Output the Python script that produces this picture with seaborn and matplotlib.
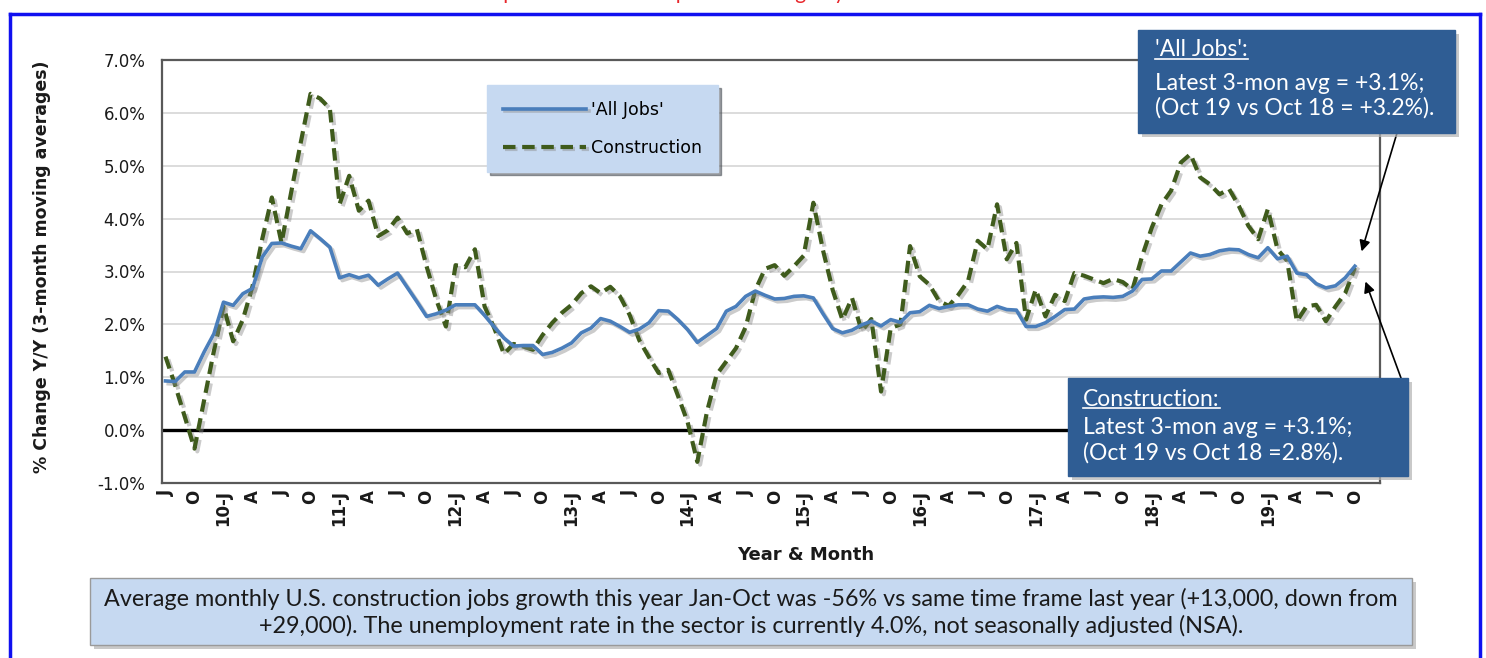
import matplotlib
matplotlib.use("Agg")
import matplotlib.pyplot as plt
import matplotlib.patheffects as pe
from matplotlib.patches import Rectangle
from matplotlib.lines import Line2D
import seaborn as sns
import pandas as pd

# monthly, Jul 2009 .. Oct 2019, % change y/y (3-month moving averages)
all_jobs = [
    0.93, 0.92, 1.10, 1.10, 1.48, 1.82, 2.42, 2.36, 2.58, 2.68, 3.27, 3.53,
    3.54, 3.48, 3.43, 3.77, 3.62, 3.46, 2.88, 2.94, 2.88, 2.93, 2.74, 2.86,
    2.97, 2.70, 2.43, 2.15, 2.20, 2.27, 2.37, 2.37, 2.37, 2.17, 1.95, 1.74,
    1.59, 1.60, 1.60, 1.43, 1.47, 1.55, 1.65, 1.84, 1.93, 2.11, 2.06, 1.96,
    1.85, 1.91, 2.03, 2.26, 2.25, 2.09, 1.90, 1.66, 1.79, 1.92, 2.25, 2.34,
    2.53, 2.63, 2.55, 2.48, 2.49, 2.53, 2.54, 2.50, 2.20, 1.92, 1.84, 1.89,
    1.99, 2.06, 1.97, 2.09, 2.04, 2.22, 2.24, 2.36, 2.30, 2.34, 2.37, 2.37,
    2.29, 2.25, 2.34, 2.28, 2.27, 1.96, 1.96, 2.03, 2.15, 2.28, 2.29, 2.48,
    2.51, 2.52, 2.51, 2.53, 2.63, 2.85, 2.86, 3.01, 3.01, 3.18, 3.35, 3.29,
    3.32, 3.39, 3.42, 3.41, 3.32, 3.26, 3.45, 3.24, 3.29, 2.97, 2.94, 2.77,
    2.69, 2.73, 2.88, 3.10,
]
construction = [
    1.39, 0.85, 0.25, -0.35, 0.57, 1.49, 2.34, 1.68, 2.09, 2.72, 3.61, 4.40,
    3.54, 4.50, 5.45, 6.36, 6.27, 6.08, 4.27, 4.81, 4.15, 4.34, 3.67, 3.78,
    4.02, 3.72, 3.80, 3.10, 2.47, 1.96, 3.12, 3.08, 3.42, 2.34, 1.93, 1.44,
    1.63, 1.58, 1.52, 1.80, 2.03, 2.22, 2.37, 2.59, 2.72, 2.59, 2.71, 2.53,
    2.18, 1.70, 1.38, 1.08, 1.14, 0.65, 0.15, -0.60, 0.35, 1.05, 1.30, 1.55,
    1.95, 2.65, 3.05, 3.12, 2.92, 3.10, 3.30, 4.30, 3.40, 2.65, 2.09, 2.50,
    1.87, 2.10, 0.73, 1.93, 2.00, 3.48, 2.91, 2.75, 2.44, 2.35, 2.56, 2.82,
    3.58, 3.42, 4.27, 3.23, 3.54, 2.09, 2.66, 2.15, 2.56, 2.44, 2.97, 2.92,
    2.85, 2.78, 2.86, 2.80, 2.66, 3.29, 3.83, 4.27, 4.53, 5.06, 5.22, 4.78,
    4.65, 4.46, 4.56, 4.24, 3.86, 3.61, 4.18, 3.42, 3.20, 2.06, 2.34, 2.37,
    2.06, 2.34, 2.59, 3.07,
]
# one label every 3 months, starting Jul 2009
tick_labels = [
    "J", "O", "10-J", "A", "J", "O", "11-J", "A", "J", "O", "12-J", "A",
    "J", "O", "13-J", "A", "J", "O", "14-J", "A", "J", "O", "15-J", "A",
    "J", "O", "16-J", "A", "J", "O", "17-J", "A", "J", "O", "18-J", "A",
    "J", "O", "19-J", "A", "J", "O",
]
y_ticks = [-1, 0, 1, 2, 3, 4, 5, 6, 7]

df = pd.DataFrame({"month": range(len(all_jobs)),
                   "all_jobs": all_jobs,
                   "construction": construction})

W, H = 1486, 658
fig = plt.figure(figsize=(W / 100, H / 100), dpi=100)
ax = fig.add_axes([162 / W, 1 - 483 / H, (1380 - 162) / W, 423 / H])

blue = "#4a7ebb"
green = "#3f5b1c"
shadow = [pe.SimpleLineShadow(offset=(2, -2), shadow_color="#8c8c8c", alpha=0.45), pe.Normal()]

sns.lineplot(data=df, x="month", y="all_jobs", ax=ax, color=blue, lw=2.6,
             label="'All Jobs'", zorder=4)
sns.lineplot(data=df, x="month", y="construction", ax=ax, color=green, lw=3.0,
             linestyle=(0, (3, 1.6)), label="Construction", zorder=3)
for ln in ax.get_lines():
    ln.set_path_effects(shadow)

ax.axhline(0, color="black", lw=2.4, zorder=2)
ax.set_ylim(-1, 7)
ax.set_xlim(-0.36, 125.6)
ax.set_yticks(y_ticks)
ax.set_yticklabels([f"{v:.1f}%" for v in y_ticks], fontsize=12, color="#1a1a1a")
ax.set_xticks(df["month"][::3])
ax.set_xticklabels(tick_labels, rotation=90, fontsize=12, fontweight="bold",
                   color="#1a1a1a")
ax.tick_params(axis="both", length=0)
ax.tick_params(axis="y", pad=12)
ax.tick_params(axis="x", pad=5)
ax.yaxis.grid(True, color="#d9d9d9", lw=1.3)
ax.xaxis.grid(False)
ax.set_axisbelow(True)
for s in ax.spines.values():
    s.set_color("#595959")
    s.set_linewidth(1.6)
ax.set_xlabel("")
ax.set_ylabel("")

leg = ax.legend(loc="upper left", bbox_to_anchor=((487 - 162) / 1218, (483 - 85) / 423),
                fontsize=12.5, frameon=True, fancybox=False, shadow=True,
                handlelength=4.8, handletextpad=0.3, labelspacing=1.15,
                borderpad=0.9, borderaxespad=0)
leg.get_frame().set_facecolor("#c6d9f1")
leg.get_frame().set_edgecolor("#c6d9f1")
leg.get_frame().set_alpha(1)

fig.text(42 / W, 1 - 267 / H, "% Change Y/Y (3-month moving averages)", rotation=90,
         ha="center", va="center", fontsize=12.5, fontweight="bold", color="#1a1a1a")
fig.text(806 / W, 1 - 555 / H, "Year & Month", ha="center", va="center",
         fontsize=13, fontweight="bold", color="#1a1a1a")

# red heading, cut off at the top edge as in the source image
fig.text(600 / W, 1 + 1 / H, "Construction Jobs Compared to 'All Jobs': percent change by month",
         ha="center", va="baseline", fontsize=15, color="#e8262b", family="Lato")

# blue frame
for xs, ys in [((10, 1480), (14, 14)), ((10, 10), (14, 700)), ((1480, 1480), (14, 700))]:
    fig.add_artist(Line2D([x / W for x in xs], [1 - y / H for y in ys], color="#1010f0", lw=2.5))


def box(x0, y0, x1, y1, face, edge=None):
    fig.add_artist(Rectangle(((x0 + 4) / W, 1 - (y1 + 4) / H), (x1 - x0) / W, (y1 - y0) / H,
                             transform=fig.transFigure, facecolor="#b3b3b3", edgecolor="none",
                             alpha=0.7, zorder=5))
    fig.add_artist(Rectangle((x0 / W, 1 - y1 / H), (x1 - x0) / W, (y1 - y0) / H,
                             transform=fig.transFigure, facecolor=face,
                             edgecolor=edge or face, lw=1, zorder=6))


dark = "#2f5d94"
box(1138, 30, 1455, 133, dark)
box(1068, 378, 1408, 476, dark)

notes = [
    (1155, [50, 83, 108], ["'All Jobs':", "Latest 3-mon avg = +3.1%;", "(Oct 19 vs Oct 18 = +3.2%)."]),
    (1083, [399, 427, 453], ["Construction:", "Latest 3-mon avg = +3.1%;", "(Oct 19 vs Oct 18 =2.8%)."]),
]
heads = []
for x, ys, lines in notes:
    for y, t in zip(ys, lines):
        txt = fig.text(x / W, 1 - y / H, t, ha="left", va="center", fontsize=16.5,
                       color="white", family="Lato", zorder=7)
        if t == lines[0]:
            heads.append(txt)

fig.canvas.draw()
r = fig.canvas.get_renderer()
for txt in heads:
    bb = txt.get_window_extent(r)
    fig.add_artist(Line2D([bb.x0 / W, bb.x1 / W], [(bb.y0 + 1.5) / H] * 2, color="white",
                          lw=1.2, zorder=7))

arrow = dict(arrowstyle="-|>", color="black", lw=1.2, mutation_scale=16, shrinkA=0, shrinkB=0)
last = df["month"].iloc[-1]
ax.annotate("", xy=(last + 0.7, all_jobs[-1] + 0.28), xycoords="data",
            xytext=(1397 / W, 1 - 133 / H), textcoords="figure fraction",
            arrowprops=arrow, annotation_clip=False)
ax.annotate("", xy=(last + 1.1, construction[-1] - 0.26), xycoords="data",
            xytext=(1401 / W, 1 - 378 / H), textcoords="figure fraction",
            arrowprops=arrow, annotation_clip=False)

box(90, 578, 1412, 645, "#c6d9f1", "#9a9a9a")
fig.text(751 / W, 1 - 599 / H,
         "Average monthly U.S. construction jobs growth this year Jan-Oct was -56% vs same time frame last year (+13,000, down from",
         ha="center", va="center", fontsize=16.8, color="#1a1a1a", family="Lato", zorder=7)
fig.text(751 / W, 1 - 626 / H,
         "+29,000). The unemployment rate in the sector is currently 4.0%, not seasonally adjusted (NSA).",
         ha="center", va="center", fontsize=16.8, color="#1a1a1a", family="Lato", zorder=7)

fig.savefig("out.png", dpi=100, facecolor="white")
